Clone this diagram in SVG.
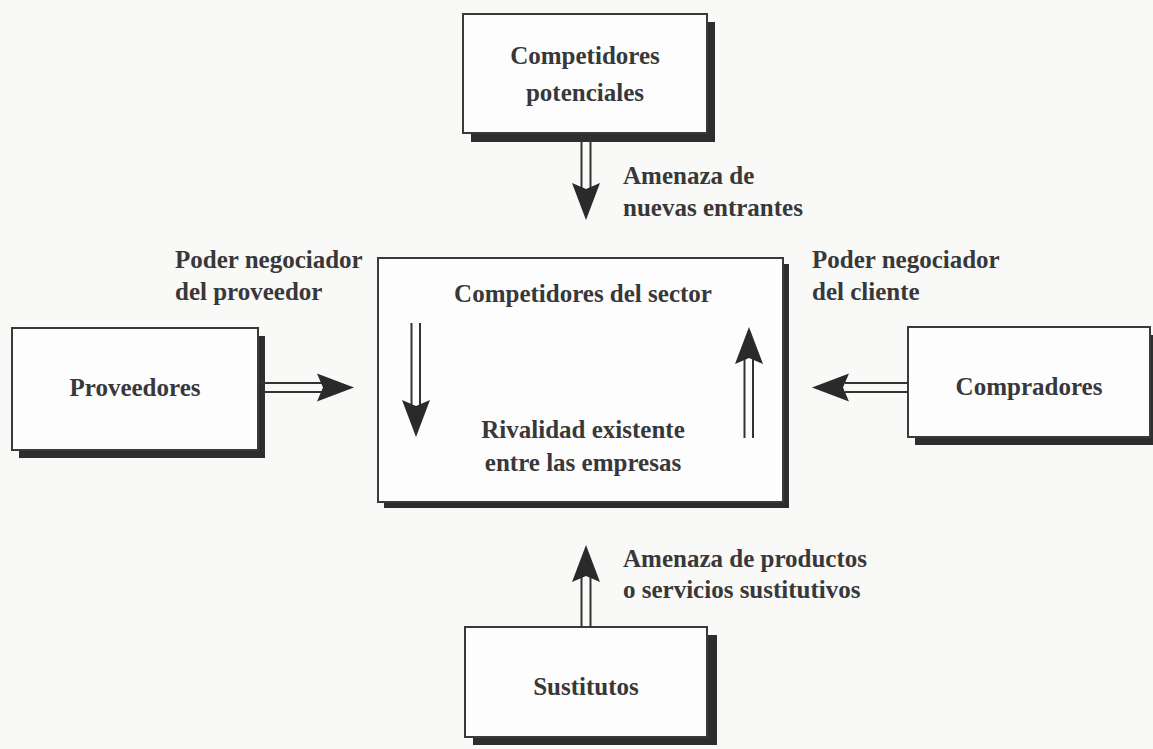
<svg xmlns="http://www.w3.org/2000/svg" xmlns:xlink="http://www.w3.org/1999/xlink" width="1153" height="749" viewBox="0 0 1153 749">
<style>
.bg{fill:#f9f9f7}
.shadow{fill:#2e2e2e}
.box{fill:#fdfdfd;stroke:#3a3a3a;stroke-width:2}
.t{font-family:"Liberation Serif","Times New Roman",serif;font-weight:bold;font-size:25px;fill:#38383a}
.c{text-anchor:middle}
.shaft{stroke:#333;stroke-width:2;fill:none}
.head{fill:#2a2a2a}
</style>
<defs>
<path id="ah" class="head" d="M0,0 L-37,-14 L-31,0 L-37,14 Z"/>
</defs>
<rect class="bg" x="0" y="0" width="1153" height="749"/>

<g id="node-potenciales">
<rect class="shadow" x="471" y="22" width="244" height="120"/>
<rect class="box" x="463" y="14" width="244" height="119"/>
<text class="t c" x="585" y="64">Competidores</text>
<text class="t c" x="585" y="101">potenciales</text>
</g>

<g id="node-sector">
<rect class="shadow" x="384" y="264" width="405" height="244"/>
<rect class="box" x="378" y="258" width="405" height="244"/>
<text class="t c" x="583" y="302">Competidores del sector</text>
<text class="t c" x="583" y="438">Rivalidad existente</text>
<text class="t c" x="583" y="471">entre las empresas</text>
</g>

<g id="node-proveedores">
<rect class="shadow" x="19" y="336" width="246" height="122"/>
<rect class="box" x="12" y="328" width="246" height="122"/>
<text class="t c" x="135" y="396">Proveedores</text>
</g>

<g id="node-compradores">
<rect class="shadow" x="915" y="335" width="242" height="110"/>
<rect class="box" x="908" y="327" width="242" height="110"/>
<text class="t c" x="1029" y="395">Compradores</text>
</g>

<g id="node-sustitutos">
<rect class="shadow" x="473" y="635" width="244" height="110"/>
<rect class="box" x="465" y="627" width="242" height="110"/>
<text class="t c" x="586" y="695">Sustitutos</text>
</g>

<g id="connectors">
<line class="shaft" x1="581.5" y1="133" x2="581.5" y2="190"/>
<line class="shaft" x1="590.5" y1="133" x2="590.5" y2="190"/>
<use xlink:href="#ah" transform="translate(586,220) rotate(90)"/>

<line class="shaft" x1="258" y1="383" x2="322" y2="383"/>
<line class="shaft" x1="258" y1="392" x2="322" y2="392"/>
<use xlink:href="#ah" transform="translate(354,387.5)"/>

<line class="shaft" x1="845" y1="383" x2="908" y2="383"/>
<line class="shaft" x1="845" y1="392" x2="908" y2="392"/>
<use xlink:href="#ah" transform="translate(812,387.5) rotate(180)"/>

<line class="shaft" x1="581.5" y1="627" x2="581.5" y2="572"/>
<line class="shaft" x1="590.5" y1="627" x2="590.5" y2="572"/>
<use xlink:href="#ah" transform="translate(586,545) rotate(-90)"/>

<line class="shaft" x1="411.5" y1="323" x2="411.5" y2="406"/>
<line class="shaft" x1="420" y1="323" x2="420" y2="406"/>
<use xlink:href="#ah" transform="translate(416,437) rotate(90)"/>

<line class="shaft" x1="744.5" y1="438" x2="744.5" y2="358"/>
<line class="shaft" x1="753" y1="438" x2="753" y2="358"/>
<use xlink:href="#ah" transform="translate(749,327) rotate(-90)"/>
</g>

<g id="labels">
<text class="t" x="623" y="184">Amenaza de</text>
<text class="t" x="623" y="216">nuevas entrantes</text>
<text class="t" x="175" y="268">Poder negociador</text>
<text class="t" x="175" y="300">del proveedor</text>
<text class="t" x="812" y="268">Poder negociador</text>
<text class="t" x="812" y="300">del cliente</text>
<text class="t" x="623" y="567">Amenaza de productos</text>
<text class="t" x="623" y="598">o servicios sustitutivos</text>
</g>
</svg>
